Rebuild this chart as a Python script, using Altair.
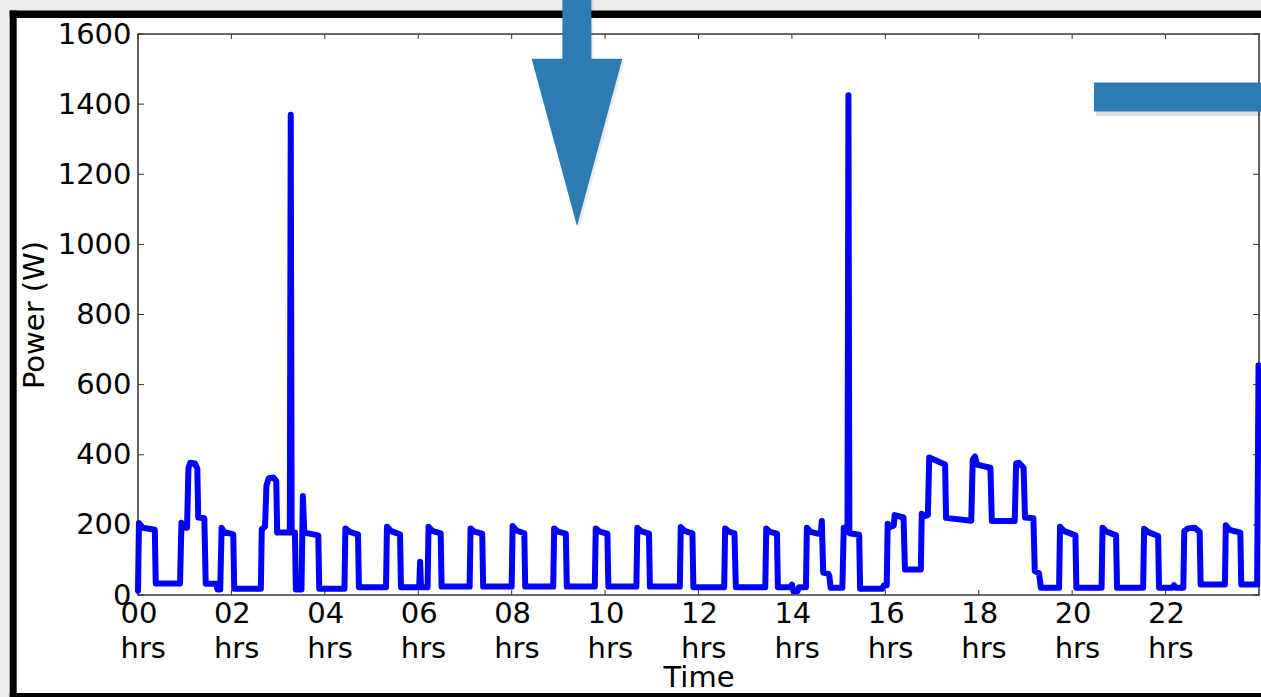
import altair as alt
import pandas as pd

# Household power draw over one day (hours since midnight, watts)
hours = [
    0.00, 0.02, 0.10, 0.36, 0.38, 0.90, 0.93, 0.96, 1.05, 1.08, 1.12, 1.22, 1.27, 1.29,
    1.42, 1.45, 1.67, 1.70, 1.76, 1.79, 1.84, 2.04, 2.06, 2.63, 2.65, 2.72, 2.75, 2.80,
    2.90, 2.96, 2.98, 3.25, 3.27, 3.29, 3.36, 3.38, 3.50, 3.53, 3.56, 3.86, 3.88,
    4.42, 4.44, 4.53, 4.71, 4.73, 5.31, 5.33, 5.42, 5.61, 5.63, 6.02, 6.04, 6.06, 6.20,
    6.22, 6.30, 6.48, 6.50, 7.10, 7.12, 7.20, 7.37, 7.39, 8.00, 8.02, 8.10, 8.27, 8.29,
    8.89, 8.91, 8.99, 9.16, 9.18, 9.78, 9.80, 9.88, 10.05, 10.07, 10.67, 10.69, 10.77,
    10.94, 10.96, 11.60, 11.62, 11.70, 11.87, 11.89, 12.55, 12.57, 12.65, 12.77, 12.80,
    13.43, 13.45, 13.53, 13.68, 13.70, 13.98, 14.00, 14.03, 14.12, 14.15, 14.30, 14.32,
    14.40, 14.55, 14.62, 14.64, 14.67, 14.78, 14.80, 14.83, 15.08, 15.11, 15.19, 15.21,
    15.23, 15.44, 15.46, 15.94, 15.97, 16.03, 16.05, 16.12, 16.18, 16.20, 16.39, 16.42,
    16.76, 16.78, 16.84, 16.91, 16.94, 17.28, 17.30, 17.84, 17.87, 17.92, 17.96, 18.25,
    18.28, 18.77, 18.80, 18.86, 18.96, 18.99, 19.17, 19.20, 19.29, 19.33, 19.72, 19.74,
    19.82, 20.07, 20.09, 20.63, 20.65, 20.73, 20.94, 20.96, 21.52, 21.54, 21.62, 21.84,
    21.86, 22.15, 22.18, 22.21, 22.38, 22.40, 22.48, 22.62, 22.73, 22.75, 23.27, 23.29,
    23.37, 23.60, 23.62, 23.96, 23.99,
]
watts = [
    12, 205, 192, 186, 33, 33, 206, 192, 192, 362, 377, 375, 360, 221,
    219, 32, 32, 16, 16, 192, 180, 173, 18, 18, 188, 195, 312, 333,
    335, 325, 178, 178, 1370, 178, 178, 16, 16, 282, 178, 170, 18,
    18, 190, 180, 173, 22, 22, 195, 182, 173, 22, 22, 95, 22, 22,
    195, 183, 176, 24, 24, 190, 181, 175, 24, 24, 197, 184, 176, 24,
    24, 190, 181, 175, 24, 24, 190, 181, 175, 24, 24, 192, 182,
    175, 24, 24, 194, 183, 176, 22, 22, 190, 181, 176, 22,
    22, 190, 180, 175, 22, 22, 30, 11, 11, 22, 22, 192,
    180, 175, 178, 211, 64, 60, 55, 21, 21, 192, 190, 1425,
    176, 172, 18, 18, 28, 28, 203, 195, 198, 228, 221, 73,
    73, 232, 225, 228, 392, 372, 220, 212, 385, 395, 372, 363,
    211, 211, 375, 377, 363, 221, 219, 68, 62, 21, 21, 195,
    183, 170, 21, 21, 192, 181, 170, 21, 21, 189, 180, 168,
    21, 21, 28, 21, 21, 182, 190, 192, 180, 30, 30, 199,
    186, 178, 30, 30, 655,
]

x_tick_hours = [0, 2, 4, 6, 8, 10, 12, 14, 16, 18, 20, 22]
y_tick_watts = [0, 200, 400, 600, 800, 1000, 1200, 1400, 1600]

FONT = "DejaVu Sans"
ARROW = "#2d7bb3"
W, H = 1121, 561

series = pd.DataFrame({"hour": hours, "watts": watts, "i": range(len(hours))})
xt = pd.DataFrame({"hour": x_tick_hours})
yt = pd.DataFrame({"watts": y_tick_watts})
one = pd.DataFrame({"k": [0]})

xscale = alt.Scale(domain=[0, 24], nice=False, zero=False)
yscale = alt.Scale(domain=[0, 1600], nice=False)

xaxis = alt.Axis(
    values=x_tick_hours,
    labelExpr="[(datum.value < 10 ? '0' : '') + datum.value, 'hrs']",
    labelAlign="left", labelOffset=-18, labelPadding=4, labelLineHeight=35,
    labelFont=FONT, labelFontSize=29, labelColor="#000",
    labelOverlap=False, labelFlush=False, labelBound=False,
    ticks=False, tickSize=0, domain=False, grid=False,
    title="Time", titleFont=FONT, titleFontSize=29, titleFontWeight="normal",
    titleColor="#000", titlePadding=0,
)
yaxis = alt.Axis(
    values=y_tick_watts, format="d",
    labelFont=FONT, labelFontSize=29, labelColor="#000", labelPadding=7,
    labelOverlap=False, labelFlush=False, labelBound=False,
    ticks=False, tickSize=0, domain=False, grid=False,
    title="Power (W)", titleFont=FONT, titleFontSize=29, titleFontWeight="normal",
    titleColor="#000", titlePadding=8,
)

X = alt.X("hour:Q", scale=xscale, axis=xaxis)
Y = alt.Y("watts:Q", scale=yscale, axis=yaxis)


def box(x0, x1, y0, y1, color, opacity=1.0):
    return alt.Chart(one).mark_rect(color=color, opacity=opacity).encode(
        x=alt.value(x0), x2=alt.value(x1), y=alt.value(y0), y2=alt.value(y1)
    )


# Surrounding slide: gray margin and a thick black frame
gray_top = box(-140, 1140, -40, -23.6, "#ececec")
gray_left = box(-140, -128.3, -40, 700, "#ececec")
frame_top = box(-128.3, 1140, -23.6, -16, "#000")
frame_left = box(-128.3, -121.3, -23.6, 700, "#000")
frame_bottom = box(-128.3, 1140, 659, 700, "#000")

# Inward-pointing ticks on all four sides
tick_bottom = alt.Chart(xt).mark_rule(color="#333", strokeWidth=1).encode(
    x=X, y=alt.value(H), y2=alt.value(H - 5))
tick_top = alt.Chart(xt).mark_rule(color="#333", strokeWidth=1).encode(
    x=X, y=alt.value(0), y2=alt.value(5))
tick_left = alt.Chart(yt).mark_rule(color="#333", strokeWidth=1).encode(
    y=Y, x=alt.value(0), x2=alt.value(6))
tick_right = alt.Chart(yt).mark_rule(color="#333", strokeWidth=1).encode(
    y=Y, x=alt.value(W - 6), x2=alt.value(W))

line = alt.Chart(series).mark_line(
    color="#0000ff", strokeWidth=6, strokeCap="round", strokeJoin="round"
).encode(x=X, y=Y, order="i:Q")

# Callout shapes: a down arrow and a horizontal bar with soft shadows
tri_path = "M-0.541,-1L0.541,-1L0,1Z"


def triangle(dx, dy, color, opacity):
    return alt.Chart(one).mark_point(
        shape=tri_path, filled=True, size=28123, color=color, opacity=opacity, strokeWidth=0
    ).encode(x=alt.value(439.0 + dx), y=alt.value(108.5 + dy))


arrow_shadow = alt.layer(
    box(426.4, 455.4, -40, 29, "#000", 0.08),
    triangle(2, 3, "#000", 0.08),
)
arrow = alt.layer(
    box(424.4, 453.4, -40, 26, ARROW),
    triangle(0, 0, ARROW, 1.0),
)
bar_shadow = box(958, 1140, 51, 82, "#000", 0.12)
bar = box(956, 1140, 48.4, 77.4, ARROW)

chart = alt.layer(
    gray_top, gray_left, frame_top, frame_left, frame_bottom,
    tick_bottom, tick_top, tick_left, tick_right,
    line,
    arrow_shadow, arrow, bar_shadow, bar,
).properties(
    width=W, height=H,
    padding={"left": 138, "top": 34, "right": 2, "bottom": 102},
    autosize=alt.AutoSizeParams(type="none"),
    background="#ffffff",
).configure_view(stroke="#3a3a3a", strokeWidth=1.6)

chart.save("out.html", embed_options={"renderer": "svg", "actions": False})
